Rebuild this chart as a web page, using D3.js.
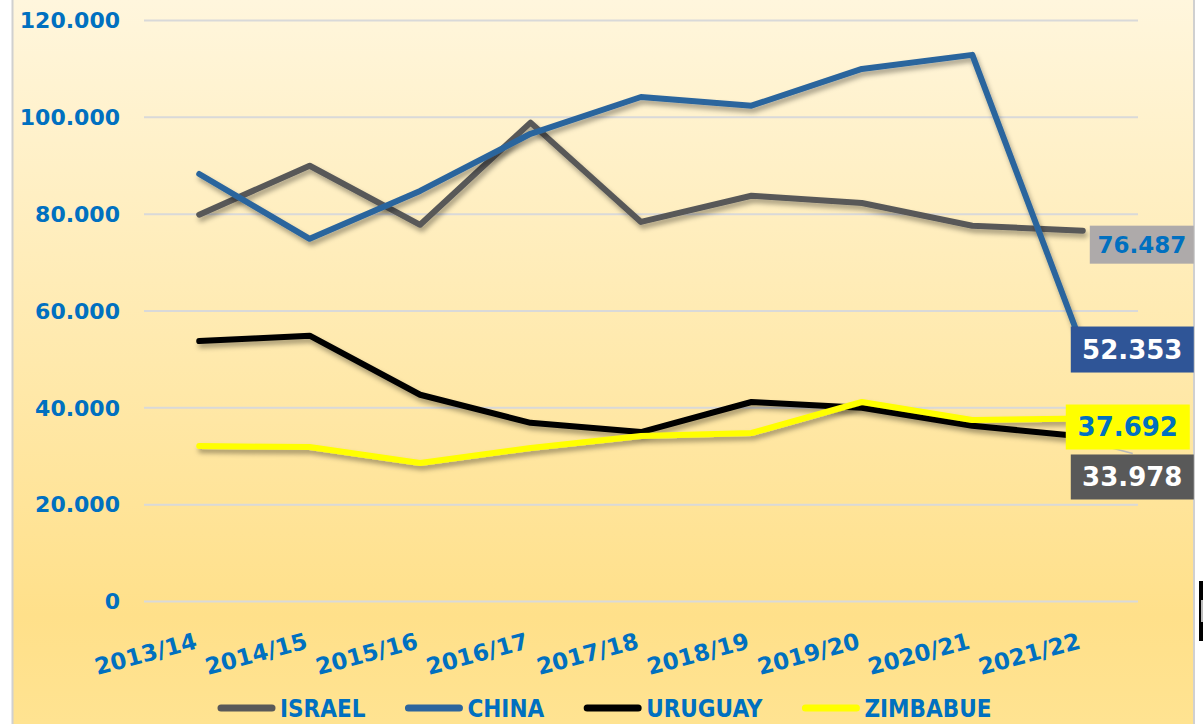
<!DOCTYPE html>
<html><head><meta charset="utf-8">
<script src="https://cdn.jsdelivr.net/npm/d3@7"></script>
<style>
html,body{margin:0;padding:0;background:#fff;}
svg{display:block;}
</style></head>
<body>
<svg id="chart" width="1203" height="724"></svg>
<script>
const categories = ["2013/14","2014/15","2015/16","2016/17","2017/18","2018/19","2019/20","2020/21","2021/22"];
const israel   = [79800, 89900, 77700, 98800, 78300, 83700, 82200, 77500, 76487];
const china    = [88200, 74800, 84700, 96500, 104100, 102300, 109900, 112800, 52353];
const uruguay  = [53700, 54800, 42600, 36800, 34900, 41100, 39900, 36200, 33978];
const zimbabue = [32000, 31800, 28500, 31600, 34100, 34700, 41100, 37400, 37692];
const seriesNames = ["ISRAEL","CHINA","URUGUAY","ZIMBABUE"];
const yTicks = [0, 20000, 40000, 60000, 80000, 100000, 120000];
const lastLabels = ["76.487","52.353","33.978","37.692"];

const colors = ["#595959","#2c659d","#000000","#ffff00"];
const series = [israel, china, uruguay, zimbabue];

const svg = d3.select("#chart");
const defs = svg.append("defs");
const grad = defs.append("linearGradient").attr("id","bg").attr("x1",0).attr("y1",0).attr("x2",0).attr("y2",1);
grad.append("stop").attr("offset","0%").attr("stop-color","#fff6dd");
grad.append("stop").attr("offset","85%").attr("stop-color","#ffe08a");
grad.append("stop").attr("offset","100%").attr("stop-color","#ffe391");
const f = defs.append("filter").attr("id","sh").attr("x","-10%").attr("y","-10%").attr("width","130%").attr("height","130%");
f.append("feDropShadow").attr("dx",2).attr("dy",4).attr("stdDeviation",2.5).attr("flood-color","#000").attr("flood-opacity",0.35);

// background panel
svg.append("rect").attr("x",12).attr("y",0).attr("width",1182).attr("height",724).attr("fill","url(#bg)");
svg.append("line").attr("x1",12.5).attr("x2",12.5).attr("y1",0).attr("y2",724).attr("stroke","#d0d0d0").attr("stroke-width",2);
svg.append("line").attr("x1",1194).attr("x2",1194).attr("y1",0).attr("y2",724).attr("stroke","#d0d0d0").attr("stroke-width",2);
// small cropped artefact at the right edge
svg.append("rect").attr("x",1199).attr("y",581).attr("width",4).attr("height",60).attr("fill","#000");
svg.append("rect").attr("x",1201).attr("y",600).attr("width",2).attr("height",22).attr("fill","#bbb");

const x = d3.scaleBand().domain(categories).range([144,1138]).padding(0);
const y = d3.scaleLinear().domain([0,120000]).range([601,20]);
const cx = d => x(d) + x.bandwidth()/2;
const blue = "#0070c0";
const font = "'DejaVu Sans', sans-serif";

// gridlines + y labels
const yAxis = d3.axisLeft(y).tickValues(yTicks).tickSize(-(1138-144)).tickFormat(d => d3.format(",")(d).replace(/,/g,"."));
const gy = svg.append("g").attr("transform","translate(144,0)").call(yAxis);
gy.select(".domain").remove();
gy.selectAll(".tick line").attr("stroke","#d9d9d9").attr("stroke-width",2);
gy.selectAll(".tick text").attr("x",-24).attr("fill",blue).attr("font-family",font).attr("font-weight","bold").attr("font-size",22).attr("dy","0.35em");

// x labels
const xAxis = d3.axisBottom(x).tickSize(0);
const gx = svg.append("g").attr("transform","translate(0,601)").call(xAxis);
gx.select(".domain").remove();
gx.selectAll(".tick text")
  .attr("fill",blue).attr("font-family",font).attr("font-weight","bold").attr("font-size",23)
  .attr("text-anchor","end").attr("x",0).attr("y",0).attr("dy",0)
  .attr("transform","translate(-1,47) rotate(-15)");

// lines
const line = d3.line().x((d,i) => cx(categories[i])).y(d => y(d));
series.forEach((s,i) => {
  svg.append("path").datum(s).attr("d",line).attr("fill","none")
    .attr("stroke",colors[i]).attr("stroke-width",6).attr("stroke-linejoin","round").attr("stroke-linecap","round")
    .attr("filter","url(#sh)");
});

// end labels
const lastX = cx(categories[categories.length-1]);
const labelSpecs = [
  {s:0, dx:7,  dy:-5,  w:104, h:38, fill:"#aeaaaa", tc:blue,   fs:23},
  {s:1, dx:-12, dy:-21, w:123, h:46, fill:"#2f5597", tc:"#fff", fs:26},
  {s:2, dx:-12, dy:18,  w:123, h:45, fill:"#595959", tc:"#fff", fs:26},
  {s:3, dx:-17, dy:-14, w:124, h:45, fill:"#ffff00", tc:blue,   fs:26}
];
// leader line for uruguay
svg.append("line").attr("x1",lastX+27).attr("y1",y(uruguay[8])+11).attr("x2",lastX+50).attr("y2",y(uruguay[8])+17)
  .attr("stroke","#b8b8b8").attr("stroke-width",1.5);
labelSpecs.forEach(l => {
  const vy = y(series[l.s][8]);
  const bx = lastX + l.dx, by = vy + l.dy;
  svg.append("rect").attr("x",bx).attr("y",by).attr("width",l.w).attr("height",l.h).attr("fill",l.fill);
  svg.append("text").attr("x",bx + l.w/2).attr("y",by + l.h/2).attr("dy","0.36em")
    .attr("text-anchor","middle").attr("fill",l.tc).attr("font-family",font).attr("font-weight","bold")
    .attr("font-size",l.fs).text(lastLabels[l.s]);
});

// legend
let lx = 218;
const ly = 708;
seriesNames.forEach((n,i) => {
  svg.append("line").attr("x1",lx+3).attr("x2",lx+54).attr("y1",ly).attr("y2",ly)
    .attr("stroke",colors[i]).attr("stroke-width",7).attr("stroke-linecap","round");
  const t = svg.append("text").attr("x",lx+62).attr("y",ly).attr("dy","0.36em")
    .attr("fill",blue).attr("font-family","'DejaVu Sans Condensed','DejaVu Sans',sans-serif").attr("font-weight","bold")
    .attr("font-size",24).text(n);
  const w = t.node().getComputedTextLength();
  lx = lx + 62 + w + 40;
});
</script>
</body></html>
